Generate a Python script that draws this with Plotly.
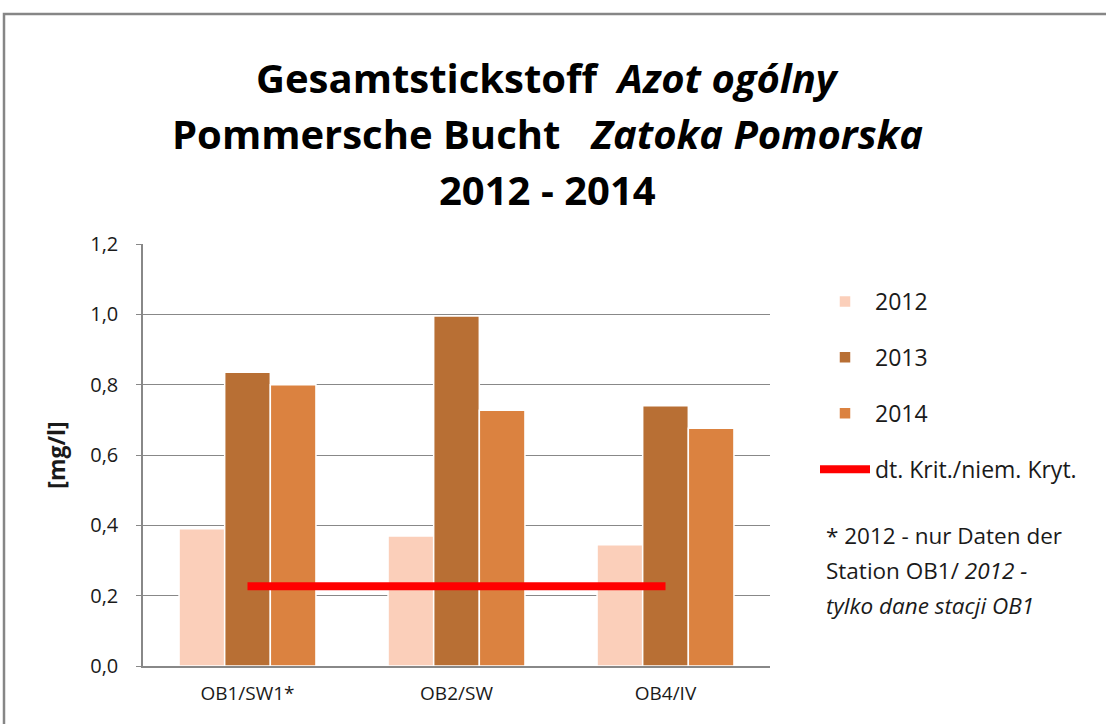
import plotly.graph_objects as go

categories = ["OB1/SW1*", "OB2/SW", "OB4/IV"]
years = ["2012", "2013", "2014"]
values_2012 = [0.39, 0.37, 0.345]
values_2013 = [0.835, 0.995, 0.74]
values_2014 = [0.80, 0.727, 0.676]
criterion = [0.227, 0.227, 0.227]
criterion_name = "dt. Krit./niem. Kryt."
ytick_vals = [0.0, 0.2, 0.4, 0.6, 0.8, 1.0, 1.2]
ytick_text = ["0,0", "0,2", "0,4", "0,6", "0,8", "1,0", "1,2"]
note_lines = ["* 2012 - nur Daten der", "Station OB1/ <i>2012 -</i>", "<i>tylko dane stacji OB1</i>"]

colors = ["#FBCFBA", "#B86F34", "#DB8240"]
FONT = "'Open Sans', Lato, sans-serif"
GRID = "#888888"
TXT = "#1a1a1a"

fig = go.Figure()
for i, (yr, vals) in enumerate(zip(years, [values_2012, values_2013, values_2014])):
    fig.add_trace(go.Bar(
        x=categories, y=vals, name=yr,
        marker=dict(color=colors[i], line=dict(color="white", width=1.5)),
        legendgroup=yr,
    ))
fig.add_trace(go.Scatter(
    x=categories, y=criterion, name=criterion_name, mode="lines",
    line=dict(color="#FF0000", width=8), legendgroup="crit",
))

W, H = 1106, 724
L, R, T, B = 143, 770, 244, 666
pw, ph = R - L, B - T

def px(x):
    return (x - L) / pw

def py(y):
    return (B - y) / ph

fig.update_layout(
    width=W, height=H,
    margin=dict(l=L, r=W - R, t=T, b=H - B, pad=0),
    paper_bgcolor="white", plot_bgcolor="white",
    font=dict(family=FONT, size=18, color=TXT),
    barmode="group", bargap=0.345, bargroupgap=0.0,
    showlegend=True,
    legend=dict(
        x=px(815), y=py(280), xanchor="left", yanchor="top",
        font=dict(size=23, family=FONT, color=TXT),
        tracegroupgap=23, itemwidth=50, bgcolor="rgba(0,0,0,0)",
    ),
    xaxis=dict(
        showgrid=False, showline=True, linecolor=GRID, linewidth=1.5,
        ticks="", tickfont=dict(size=19, family=FONT, color=TXT),
        ticklabelstandoff=9, fixedrange=True,
    ),
    yaxis=dict(
        range=[0, 1.2], tickvals=ytick_vals, ticktext=ytick_text,
        showgrid=True, gridcolor=GRID, gridwidth=1,
        showline=True, linecolor=GRID, linewidth=1.5,
        ticks="outside", ticklen=5, tickcolor=GRID,
        tickfont=dict(size=20, family=FONT, color=TXT),
        ticklabelstandoff=14, zeroline=False,
        title=dict(text="<b>[mg/l]</b>", font=dict(size=23, family=FONT, color=TXT), standoff=18),
    ),
    shapes=[dict(
        type="rect", xref="paper", yref="paper",
        x0=px(4), x1=px(1140), y0=py(760), y1=py(14),
        line=dict(color="#868686", width=2.5), fillcolor="rgba(0,0,0,0)", layer="below",
    )],
)

title_lines = [
    ("<b>Gesamtstickstoff  <i>Azot ogólny</i></b>", 77),
    ("<b>Pommersche Bucht   <i>Zatoka Pomorska</i></b>", 133),
    ("<b>2012 - 2014</b>", 190),
]
for text, yc in title_lines:
    fig.add_annotation(
        text=text, xref="paper", yref="paper", x=px(547), y=py(yc),
        xanchor="center", yanchor="middle", showarrow=False,
        font=dict(size=40, family=FONT, color="#000000"),
    )

for j, line in enumerate(note_lines):
    fig.add_annotation(
        text=line, xref="paper", yref="paper", x=px(824), y=py(535 + 35 * j),
        xanchor="left", yanchor="middle", align="left", showarrow=False,
        font=dict(size=22.5, family=FONT, color=TXT),
    )

fig.write_html(
    "out.html",
    config={"displayModeBar": False},
    post_script="document.body.style.margin='0';",
)
